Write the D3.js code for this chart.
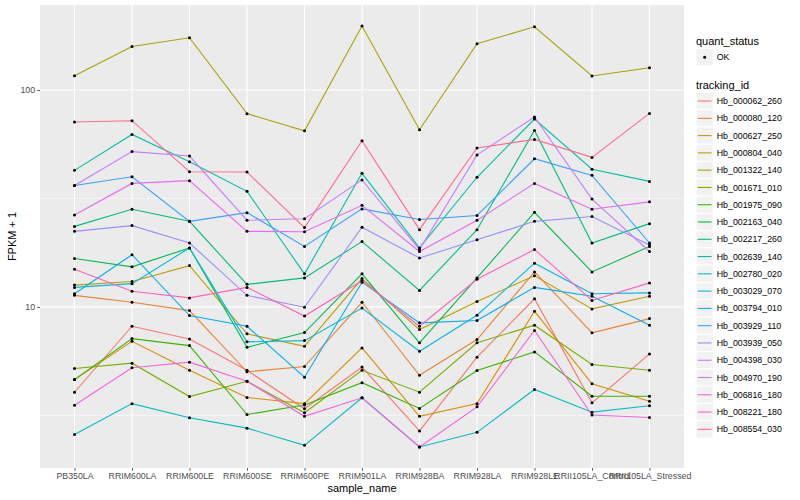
<!DOCTYPE html>
<html>
<head>
<meta charset="utf-8">
<title>FPKM + 1 by sample</title>
<script src="https://cdn.jsdelivr.net/npm/d3@7"></script>
<style>
  body { margin: 0; background: #fff; }
  svg { font-family: "Liberation Sans", Arial, Helvetica, sans-serif; }
  .axis text { fill: #4d4d4d; font-size: 8.8px; }
  .axis line { stroke: #333; stroke-width: 0.8; }
  .axis path { display: none; }
  .grid line { stroke: #fff; }
  .legend text { font-size: 8.8px; fill: #000; }
  .legend .title { font-size: 11px; }
</style>
</head>
<body>
<svg></svg>
<script>
// x categories
var samples = ['PB350LA', 'RRIM600LA', 'RRIM600LE', 'RRIM600SE', 'RRIM600PE', 'RRIM901LA',
               'RRIM928BA', 'RRIM928LA', 'RRIM928LE', 'RRII105LA_Control', 'RRII105LA_Stressed'];

var trackingIds = ['Hb_000062_260', 'Hb_000080_120', 'Hb_000627_250', 'Hb_000804_040',
                   'Hb_001322_140', 'Hb_001671_010', 'Hb_001975_090', 'Hb_002163_040',
                   'Hb_002217_260', 'Hb_002639_140', 'Hb_002780_020', 'Hb_003029_070',
                   'Hb_003794_010', 'Hb_003929_110', 'Hb_003939_050', 'Hb_004398_030',
                   'Hb_004970_190', 'Hb_006816_180', 'Hb_008221_180', 'Hb_008554_030'];

var quantStatus = ['OK'];
var yTicks = [10, 100];

// FPKM + 1, one value per sample
var hb_000062_260 = [4.04, 8.14, 7.11, 5.10, 3.39, 5.28, 2.68, 5.86, 10.9, 3.61, 6.07];
var hb_000080_120 = [11.3, 10.5, 9.61, 5.02, 5.31, 10.5, 4.84, 7.07, 14.5, 7.59, 8.83];
var hb_000627_250 = [4.62, 6.94, 5.10, 3.82, 3.58, 6.47, 3.13, 3.58, 9.54, 4.42, 3.67];
var hb_000804_040 = [12.6, 13.1, 15.5, 7.51, 6.58, 13.5, 7.86, 10.6, 13.9, 9.79, 11.2];
var hb_001322_140 = [116.4, 158.8, 174.2, 77.8, 64.9, 197.2, 65.6, 163.5, 195.7, 116.0, 126.7];
var hb_001671_010 = [5.20, 5.50, 3.86, 4.54, 3.25, 5.10, 4.04, 6.83, 8.23, 5.42, 5.10];
var hb_001975_090 = [4.62, 7.14, 6.63, 3.19, 3.53, 4.47, 3.40, 5.09, 6.20, 3.87, 3.87];
var hb_002163_040 = [16.7, 15.3, 18.7, 6.51, 7.61, 14.2, 6.83, 13.6, 27.3, 14.5, 19.0];
var hb_002217_260 = [23.5, 28.2, 24.8, 12.7, 13.6, 20.0, 11.9, 22.7, 65.1, 19.7, 24.2];
var hb_002639_140 = [42.6, 62.4, 46.7, 34.1, 14.2, 41.3, 18.7, 39.6, 73.5, 43.1, 37.9];
var hb_002780_020 = [2.58, 3.58, 3.08, 2.76, 2.30, 3.81, 2.26, 2.64, 4.16, 3.27, 3.50];
var hb_003029_070 = [12.3, 12.8, 18.7, 6.90, 6.99, 9.87, 6.24, 9.15, 15.9, 11.5, 11.6];
var hb_003794_010 = [11.5, 17.4, 9.12, 8.14, 4.74, 13.0, 8.44, 8.65, 12.3, 11.2, 8.23];
var hb_003929_110 = [36.3, 39.8, 24.8, 27.2, 19.0, 28.3, 25.3, 26.4, 48.2, 40.4, 19.7];
var hb_003939_050 = [22.3, 23.7, 19.7, 11.3, 9.96, 23.3, 16.8, 20.4, 24.8, 26.1, 19.3];
var hb_004398_030 = [36.3, 52.0, 49.6, 25.1, 25.5, 38.5, 18.4, 50.2, 75.1, 31.4, 18.0];
var hb_004970_190 = [26.5, 37.1, 38.2, 22.3, 22.2, 29.4, 18.0, 25.1, 37.1, 28.2, 30.5];
var hb_006816_180 = [3.52, 5.24, 5.56, 4.54, 3.13, 3.81, 2.26, 3.46, 7.78, 3.17, 3.09];
var hb_008221_180 = [14.9, 11.8, 11.0, 12.3, 9.07, 13.2, 8.14, 13.4, 18.4, 10.7, 12.9];
var hb_008554_030 = [71.2, 72.2, 42.0, 41.9, 23.2, 58.4, 22.7, 54.0, 59.2, 48.9, 78.0];

var seriesValues = [hb_000062_260, hb_000080_120, hb_000627_250, hb_000804_040, hb_001322_140,
                    hb_001671_010, hb_001975_090, hb_002163_040, hb_002217_260, hb_002639_140,
                    hb_002780_020, hb_003029_070, hb_003794_010, hb_003929_110, hb_003939_050,
                    hb_004398_030, hb_004970_190, hb_006816_180, hb_008221_180, hb_008554_030];

// ggplot hue palette for 20 levels
var palette = ['#F8766D', '#EA8331', '#D89000', '#C09B00', '#A3A500', '#7CAE00', '#39B600',
               '#00BB4E', '#00BF7D', '#00C1A3', '#00BFC4', '#00BAE0', '#00B0F6', '#35A2FF',
               '#9590FF', '#C77CFF', '#E76BF3', '#FA62DB', '#FF62BC', '#FF6C91'];

(function () {
    var w = 800, h = 500,
        panel = { left: 40, right: 684, top: 5, bottom: 468 };

    var svg = d3.select('svg').attr('width', w).attr('height', h);

    var series = trackingIds.map(function (id, i) {
        return { id: id, color: palette[i],
                 values: samples.map(function (s, j) { return { sample: s, v: seriesValues[i][j] }; }) };
    });

    var all = d3.merge(seriesValues),
        lo = Math.log10(d3.min(all)), hi = Math.log10(d3.max(all)),
        pad = (hi - lo) * 0.05;

    var x = d3.scalePoint().domain(samples)
        .range([panel.left, panel.right]).padding(0.6);
    var y = d3.scaleLog().domain([Math.pow(10, lo - pad), Math.pow(10, hi + pad)])
        .range([panel.bottom, panel.top]);

    // panel
    svg.append('rect')
        .attr('x', panel.left).attr('y', panel.top)
        .attr('width', panel.right - panel.left).attr('height', panel.bottom - panel.top)
        .style('fill', '#ebebeb');

    var grid = svg.append('g').attr('class', 'grid');
    var minor = yTicks.map(function (t) { return t / Math.sqrt(10); })
        .concat([yTicks[yTicks.length - 1] * Math.sqrt(10)])
        .filter(function (t) { return t >= y.domain()[0] && t <= y.domain()[1]; });

    grid.selectAll('.minor').data(minor).enter().append('line')
        .attr('x1', panel.left).attr('x2', panel.right)
        .attr('y1', y).attr('y2', y)
        .style('stroke-width', 0.55);
    grid.selectAll('.major-y').data(yTicks).enter().append('line')
        .attr('x1', panel.left).attr('x2', panel.right)
        .attr('y1', y).attr('y2', y)
        .style('stroke-width', 1.1);
    grid.selectAll('.major-x').data(samples).enter().append('line')
        .attr('x1', x).attr('x2', x)
        .attr('y1', panel.top).attr('y2', panel.bottom)
        .style('stroke-width', 1.1);

    // lines + points
    var line = d3.line()
        .x(function (d) { return x(d.sample); })
        .y(function (d) { return y(d.v); });

    svg.append('g').selectAll('path').data(series).enter().append('path')
        .attr('d', function (d) { return line(d.values); })
        .style('fill', 'none')
        .style('stroke', function (d) { return d.color; })
        .style('stroke-width', 1.1);

    svg.append('g').selectAll('g').data(series).enter().append('g')
        .selectAll('circle').data(function (d) { return d.values; }).enter().append('circle')
        .attr('cx', function (d) { return x(d.sample); })
        .attr('cy', function (d) { return y(d.v); })
        .attr('r', 1.5)
        .style('fill', '#000');

    // axes
    svg.append('g').attr('class', 'axis')
        .attr('transform', 'translate(' + panel.left + ',0)')
        .call(d3.axisLeft(y).tickValues(yTicks).tickFormat(d3.format('d'))
              .tickSizeInner(2.75).tickPadding(2.2));

    svg.append('g').attr('class', 'axis')
        .attr('transform', 'translate(0,' + panel.bottom + ')')
        .call(d3.axisBottom(x).tickSizeInner(2.75).tickPadding(2.2));

    svg.append('text')
        .attr('x', (panel.left + panel.right) / 2).attr('y', 492)
        .attr('text-anchor', 'middle')
        .style('font-size', '11px')
        .text('sample_name');

    svg.append('text')
        .attr('transform', 'translate(16,' + ((panel.top + panel.bottom) / 2) + ')rotate(-90)')
        .attr('text-anchor', 'middle')
        .style('font-size', '11px')
        .text('FPKM + 1');

    // legends
    var key = 17.28, lx = 696;
    var leg = svg.append('g').attr('class', 'legend');

    leg.append('text').attr('class', 'title').attr('x', lx).attr('y', 44.5).text('quant_status');
    var qs = leg.selectAll('.qs').data(quantStatus).enter().append('g')
        .attr('transform', function (d, i) { return 'translate(' + lx + ',' + (48.5 + i * key) + ')'; });
    qs.append('rect').attr('width', key).attr('height', key)
        .style('fill', '#f2f2f2').style('stroke', '#fff');
    qs.append('circle').attr('cx', key / 2).attr('cy', key / 2).attr('r', 1.5).style('fill', '#000');
    qs.append('text').attr('x', key + 3.5).attr('y', key / 2).attr('dy', '0.35em')
        .text(function (d) { return d; });

    leg.append('text').attr('class', 'title').attr('x', lx).attr('y', 88.5).text('tracking_id');
    var ti = leg.selectAll('.ti').data(series).enter().append('g')
        .attr('transform', function (d, i) { return 'translate(' + lx + ',' + (92.4 + i * key) + ')'; });
    ti.append('rect').attr('width', key).attr('height', key)
        .style('fill', '#f2f2f2').style('stroke', '#fff');
    ti.append('line')
        .attr('x1', 1.7).attr('x2', key - 1.7)
        .attr('y1', key / 2).attr('y2', key / 2)
        .style('stroke', function (d) { return d.color; })
        .style('stroke-width', 1.1);
    ti.append('text').attr('x', key + 3.5).attr('y', key / 2).attr('dy', '0.35em')
        .text(function (d) { return d.id; });
})();
</script>
</body>
</html>
